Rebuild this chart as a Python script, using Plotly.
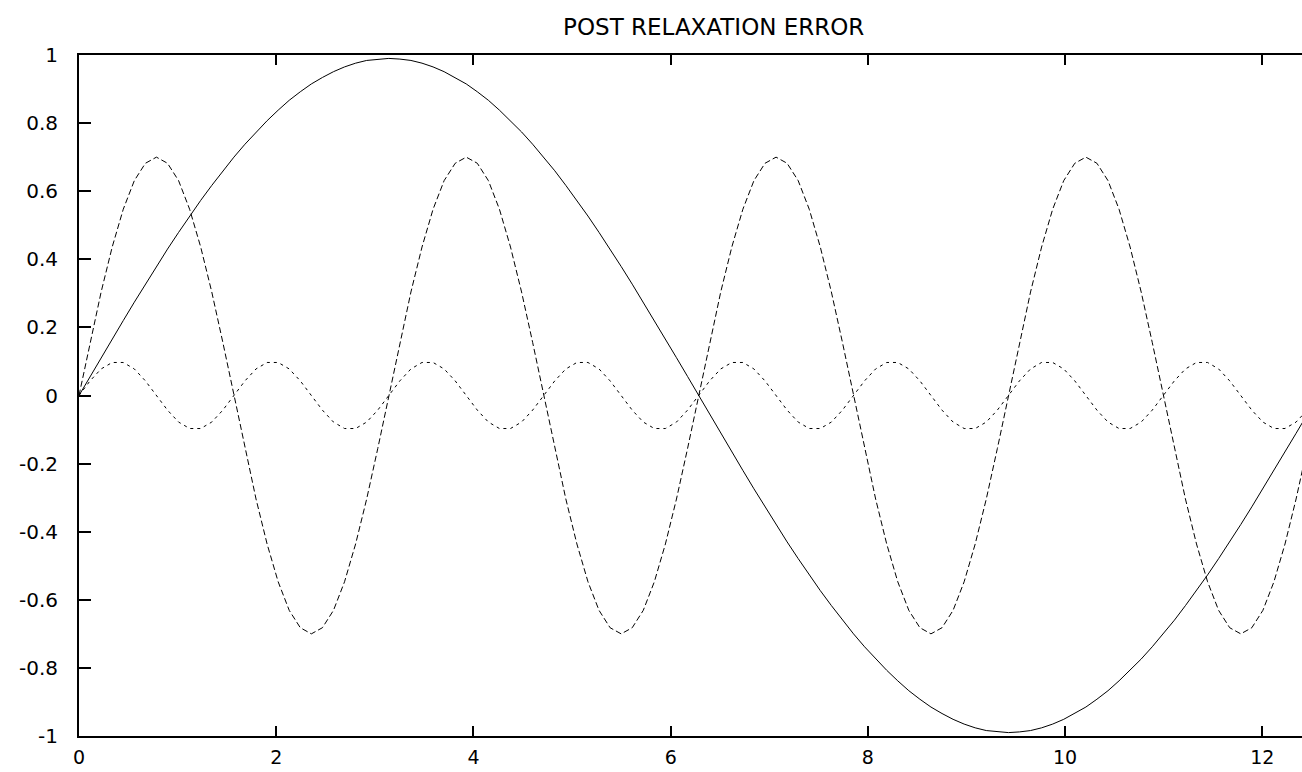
import numpy as np
import plotly.graph_objects as go

# sample grid: 113 points over [0, 4*pi]
x_vals = np.linspace(0, 4 * np.pi, 113)

smooth_mode = [
    0, 0.056, 0.111, 0.166, 0.220, 0.274, 0.327, 0.379, 0.430, 0.479, 0.527, 0.573, 0.617, 0.660,
    0.700, 0.738, 0.774, 0.807, 0.838, 0.867, 0.892, 0.915, 0.934, 0.951, 0.965, 0.976, 0.984, 0.988, 0.990,
    0.988, 0.984, 0.976, 0.965, 0.951, 0.934, 0.915, 0.892, 0.867, 0.838, 0.807, 0.774, 0.738, 0.700,
    0.660, 0.617, 0.573, 0.527, 0.479, 0.430, 0.379, 0.327, 0.274, 0.220, 0.166, 0.111, 0.056, 0,
    -0.056, -0.111, -0.166, -0.220, -0.274, -0.327, -0.379, -0.430, -0.479, -0.527, -0.573, -0.617, -0.660,
    -0.700, -0.738, -0.774, -0.807, -0.838, -0.867, -0.892, -0.915, -0.934, -0.951, -0.965, -0.976, -0.984, -0.988, -0.990,
    -0.988, -0.984, -0.976, -0.965, -0.951, -0.934, -0.915, -0.892, -0.867, -0.838, -0.807, -0.774, -0.738, -0.700,
    -0.660, -0.617, -0.573, -0.527, -0.479, -0.430, -0.379, -0.327, -0.274, -0.220, -0.166, -0.111, -0.056, 0,
]

mid_mode = [
    0, 0.156, 0.304, 0.436, 0.547, 0.631, 0.682, 0.700, 0.682, 0.631, 0.547, 0.436, 0.304, 0.156,
    0, -0.156, -0.304, -0.436, -0.547, -0.631, -0.682, -0.700, -0.682, -0.631, -0.547, -0.436, -0.304, -0.156,
    0, 0.156, 0.304, 0.436, 0.547, 0.631, 0.682, 0.700, 0.682, 0.631, 0.547, 0.436, 0.304, 0.156,
    0, -0.156, -0.304, -0.436, -0.547, -0.631, -0.682, -0.700, -0.682, -0.631, -0.547, -0.436, -0.304, -0.156,
    0, 0.156, 0.304, 0.436, 0.547, 0.631, 0.682, 0.700, 0.682, 0.631, 0.547, 0.436, 0.304, 0.156,
    0, -0.156, -0.304, -0.436, -0.547, -0.631, -0.682, -0.700, -0.682, -0.631, -0.547, -0.436, -0.304, -0.156,
    0, 0.156, 0.304, 0.436, 0.547, 0.631, 0.682, 0.700, 0.682, 0.631, 0.547, 0.436, 0.304, 0.156,
    0, -0.156, -0.304, -0.436, -0.547, -0.631, -0.682, -0.700, -0.682, -0.631, -0.547, -0.436, -0.304, -0.156,
    0,
]

high_mode = [
    0, 0.043, 0.078, 0.097, 0.097, 0.078, 0.043, 0, -0.043, -0.078, -0.097, -0.097, -0.078, -0.043,
    0, 0.043, 0.078, 0.097, 0.097, 0.078, 0.043, 0, -0.043, -0.078, -0.097, -0.097, -0.078, -0.043,
    0, 0.043, 0.078, 0.097, 0.097, 0.078, 0.043, 0, -0.043, -0.078, -0.097, -0.097, -0.078, -0.043,
    0, 0.043, 0.078, 0.097, 0.097, 0.078, 0.043, 0, -0.043, -0.078, -0.097, -0.097, -0.078, -0.043,
    0, 0.043, 0.078, 0.097, 0.097, 0.078, 0.043, 0, -0.043, -0.078, -0.097, -0.097, -0.078, -0.043,
    0, 0.043, 0.078, 0.097, 0.097, 0.078, 0.043, 0, -0.043, -0.078, -0.097, -0.097, -0.078, -0.043,
    0, 0.043, 0.078, 0.097, 0.097, 0.078, 0.043, 0, -0.043, -0.078, -0.097, -0.097, -0.078, -0.043,
    0, 0.043, 0.078, 0.097, 0.097, 0.078, 0.043, 0, -0.043, -0.078, -0.097, -0.097, -0.078, -0.043,
    0,
]

x_tick_vals = [0, 2, 4, 6, 8, 10, 12]
x_tick_text = ["0", "2", "4", "6", "8", "10", "12"]
y_tick_vals = [-1, -0.8, -0.6, -0.4, -0.2, 0, 0.2, 0.4, 0.6, 0.8, 1]
y_tick_text = ["-1", "-0.8", "-0.6", "-0.4", "-0.2", "0", "0.2", "0.4", "0.6", "0.8", "1"]

FONT = "DejaVu Sans"

fig = go.Figure()
fig.add_trace(go.Scatter(x=x_vals, y=smooth_mode, mode="lines",
                         line=dict(color="black", width=1), showlegend=False))
fig.add_trace(go.Scatter(x=x_vals, y=mid_mode, mode="lines",
                         line=dict(color="black", width=1, dash="6px,3px"), showlegend=False))
fig.add_trace(go.Scatter(x=x_vals, y=high_mode, mode="lines",
                         line=dict(color="black", width=1, dash="3px,4px"), showlegend=False))

fig.update_layout(
    width=1302, height=772,
    margin=dict(l=79, r=0, t=55, b=36, autoexpand=False),
    paper_bgcolor="white", plot_bgcolor="white",
    font=dict(family=FONT, size=20, color="black"),
    title=dict(text="POST RELAXATION ERROR", font=dict(family=FONT, size=23, color="black"),
               x=0.519, xref="paper", xanchor="center",
               y=1 - 27 / 772, yref="container", yanchor="middle"),
    xaxis=dict(range=[0, 12.402], tickvals=x_tick_vals, ticktext=x_tick_text,
               showgrid=False, zeroline=False, showline=True, linecolor="black", linewidth=2,
               mirror="ticks", ticks="inside", ticklen=10, tickwidth=1.5, tickcolor="black",
               ticklabelstandoff=3, tickfont=dict(family=FONT, size=19, color="black"),
               automargin=False),
    yaxis=dict(range=[-1, 1], tickvals=y_tick_vals, ticktext=y_tick_text,
               showgrid=False, zeroline=False, showline=True, linecolor="black", linewidth=2,
               mirror=False, ticks="inside", ticklen=12, tickwidth=1.5, tickcolor="black",
               ticklabelstandoff=15, automargin=False),
)

fig.write_html("out.html")
